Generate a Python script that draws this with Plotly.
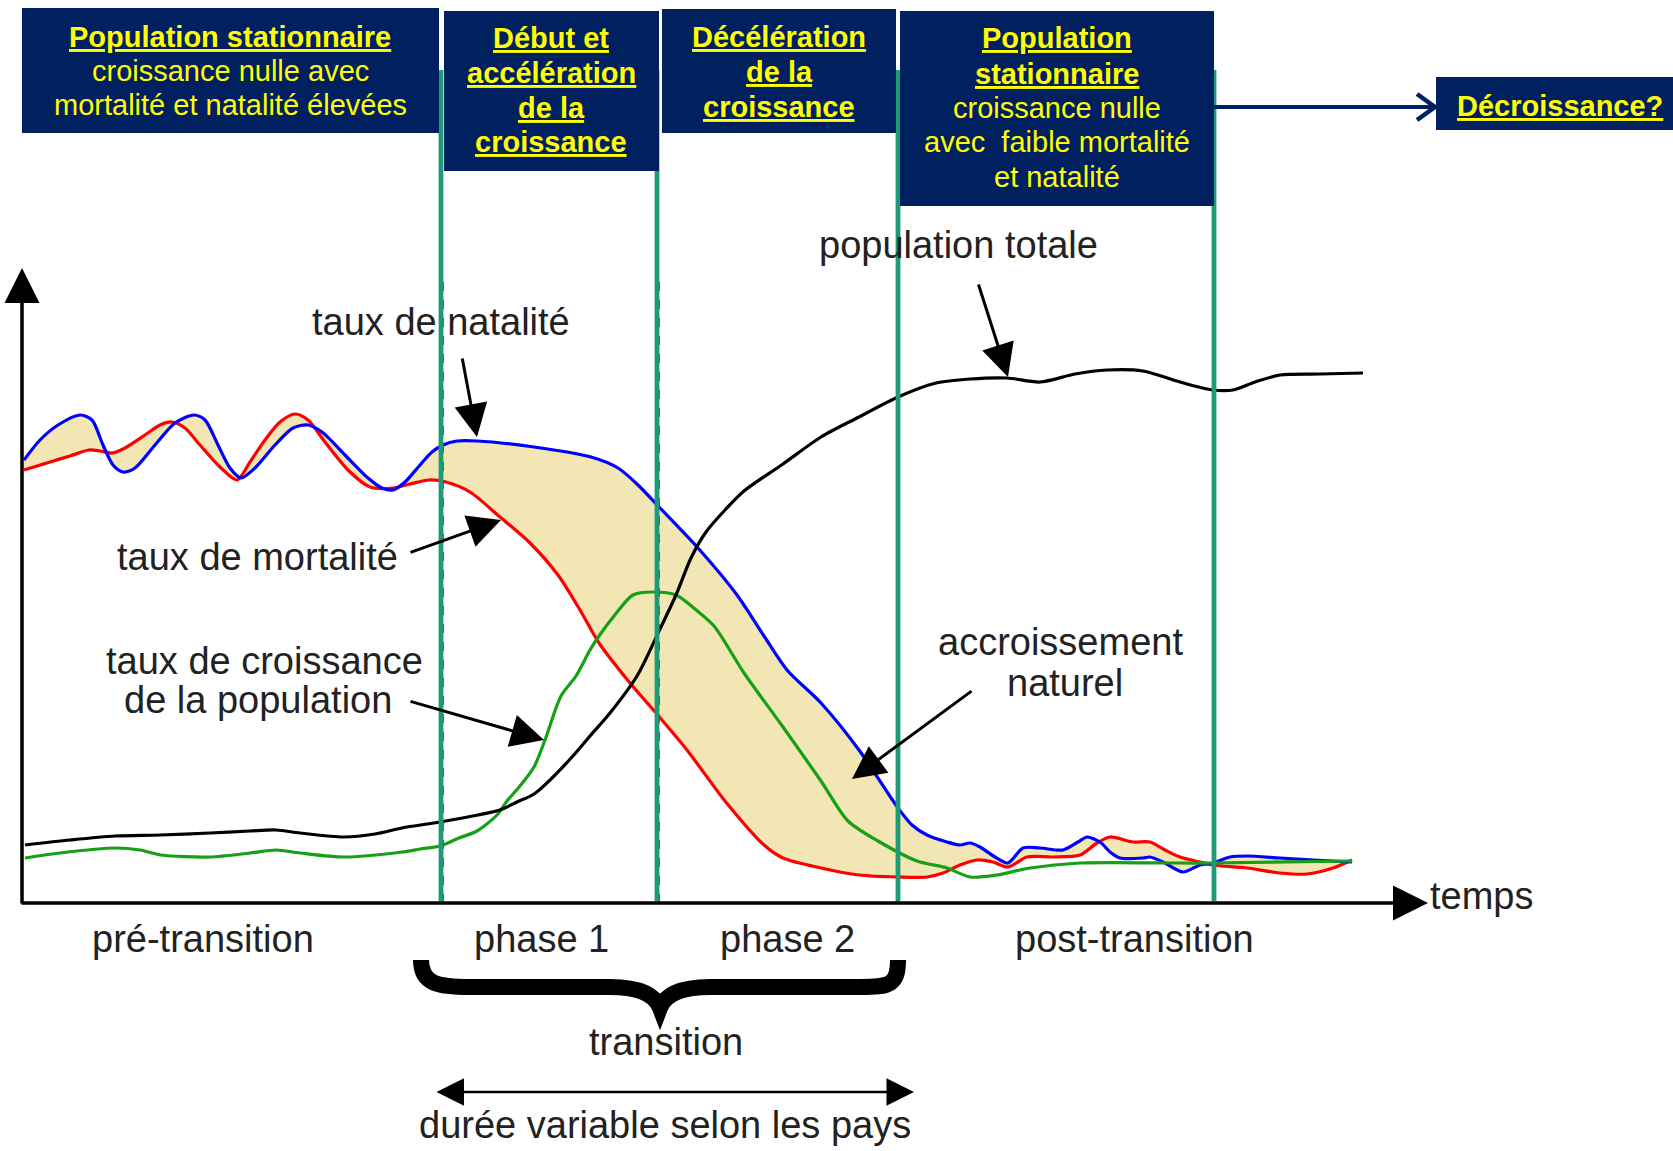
import plotly.graph_objects as go

# ---- data (t = time from origin, h = height above time axis) ----
natalite_t = [2, 18, 36, 58, 70, 81, 91, 101, 113, 133, 153, 172, 183, 196, 208, 219, 233, 253, 271, 286,
              300, 323, 346, 360, 371, 383, 398, 410, 421, 435, 455, 512, 569, 596, 615, 638, 676, 715, 742,
              765, 799, 837, 876, 890, 905, 925, 938, 948, 958, 973, 986, 1001, 1018, 1041, 1056, 1065, 1078,
              1088, 1098, 1121, 1128, 1141, 1161, 1178, 1191, 1208, 1225, 1258, 1291, 1330]
natalite_h = [443, 463, 478, 488, 483, 458, 438, 431, 435, 458, 480, 488, 483, 458, 435, 425, 435, 458, 475, 478,
              471, 448, 425, 415, 413, 421, 438, 451, 458, 462, 462, 456, 446, 435, 419, 395, 355, 308, 267,
              233, 200, 153, 95, 78, 68, 61, 58, 60, 56, 46, 40, 55, 55, 53, 61, 66, 61,
              51, 45, 45, 46, 41, 31, 38, 40, 46, 47, 45, 43, 41]

mortalite_t = [2, 28, 48, 67, 78, 90, 103, 123, 138, 150, 163, 178, 198, 215, 228, 243, 258, 273, 286, 303,
               326, 348, 371, 388, 407, 424, 448, 478, 508, 536, 558, 577, 608, 634, 665, 703, 742, 761, 799,
               837, 876, 905, 921, 938, 955, 971, 986, 1005, 1031, 1058, 1075, 1088, 1111, 1128, 1143, 1158,
               1178, 1191, 1225, 1258, 1285, 1311, 1330]
mortalite_h = [433, 441, 447, 453, 452, 450, 455, 468, 478, 481, 475, 458, 436, 423, 441, 463, 481, 489, 483, 461,
               433, 416, 415, 419, 423, 421, 411, 386, 360, 328, 293, 260, 220, 190, 153, 102, 58, 45, 35,
               28, 26, 26, 30, 38, 43, 41, 36, 46, 46, 48, 60, 66, 61, 61, 53, 46,
               41, 38, 35, 30, 29, 35, 43]

croissance_t = [3, 38, 93, 118, 139, 188, 228, 254, 278, 322, 380, 398, 418, 437, 455, 475, 485, 498, 512, 523,
                539, 554, 568, 577, 592, 611, 631, 654, 673, 692, 722, 761, 799, 826, 856, 895, 925, 948, 975,
                1008, 1058, 1158, 1191, 1330]
croissance_h = [45, 50, 55, 53, 48, 46, 50, 53, 50, 46, 51, 54, 57, 65, 72, 88, 102, 117, 136, 163,
                207, 227, 253, 267, 287, 308, 311, 308, 294, 277, 230, 176, 122, 82, 62, 42, 35, 26, 28,
                35, 40, 40, 40, 42]

population_t = [3, 48, 93, 138, 188, 228, 254, 278, 322, 353, 380, 418, 456, 478, 495, 512, 530, 550, 568, 588,
                615, 638, 654, 669, 684, 703, 722, 761, 799, 837, 876, 914, 948, 985, 1018, 1053, 1085, 1121,
                1158, 1191, 1211, 1233, 1258, 1298, 1341]
population_h = [58, 63, 67, 68, 70, 72, 73, 70, 66, 69, 75, 81, 88, 93, 101, 109, 125, 146, 167, 190,
                227, 274, 308, 345, 371, 393, 412, 439, 466, 486, 506, 520, 524, 525, 521, 529, 533, 532,
                521, 513, 513, 521, 528, 529, 530]

phase_labels = ["pré-transition", "phase 1", "phase 2", "post-transition"]
phase_centers = [203, 541, 787, 1134]          # picture x of label centres
phase_bounds = [441, 657, 898, 1214]          # picture x of the green separators
dashed_bounds = [443, 659, 897]

NAVY = "#002060"
YELLOW = "#ffff00"
TEAL = "#1f9a78"
FILLC = "#f3e6b5"
TXT = "#222222"
FONT = "Liberation Sans, Arial, sans-serif"

# picture pixel -> data units
def X(px):
    return px - 22
def Y(py):
    return 903 - py

fig = go.Figure()

# natural increase area between natality and mortality
fig.add_trace(go.Scatter(x=natalite_t + mortalite_t[::-1], y=natalite_h + mortalite_h[::-1],
                         fill="toself", fillcolor=FILLC, mode="lines",
                         line=dict(width=0, shape="spline", smoothing=0.8), hoverinfo="skip"))
fig.add_trace(go.Scatter(x=mortalite_t, y=mortalite_h, mode="lines",
                         line=dict(color="#ff0000", width=3.2, shape="spline", smoothing=0.8)))
fig.add_trace(go.Scatter(x=natalite_t, y=natalite_h, mode="lines",
                         line=dict(color="#0000ff", width=3.2, shape="spline", smoothing=0.8)))
fig.add_trace(go.Scatter(x=croissance_t, y=croissance_h, mode="lines",
                         line=dict(color="#16a016", width=3.2, shape="spline", smoothing=0.8)))
fig.add_trace(go.Scatter(x=population_t, y=population_h, mode="lines",
                         line=dict(color="#000000", width=3.2, shape="spline", smoothing=0.8)))

shapes = []
# dashed phase separators
for bx in dashed_bounds:
    shapes.append(dict(type="line", xref="x", yref="y", x0=X(bx), x1=X(bx), y0=Y(903), y1=Y(280),
                       line=dict(color="#333333", width=1.6, dash="dash")))
# green separators
for bx in phase_bounds:
    shapes.append(dict(type="line", xref="x", yref="y", x0=X(bx), x1=X(bx), y0=Y(901), y1=Y(70),
                       line=dict(color=TEAL, width=4.8)))
# header boxes
boxes = [(22, 439, 8, 133), (444, 659, 11, 171), (662, 896, 9, 133), (900, 1214, 11, 206), (1436, 1673, 77, 130)]
for (x0, x1, y0, y1) in boxes:
    shapes.append(dict(type="rect", xref="x", yref="y", x0=X(x0), x1=X(x1), y0=Y(y1), y1=Y(y0),
                       fillcolor=NAVY, line=dict(width=0)))
# navy arrow to "Décroissance?"
shapes.append(dict(type="line", xref="x", yref="y", x0=X(1214), x1=X(1434), y0=Y(107), y1=Y(107),
                   line=dict(color=NAVY, width=4)))
shapes.append(dict(type="path", xref="x", yref="y",
                   path=f"M {X(1417)},{Y(94)} L {X(1435)},{Y(107)} L {X(1417)},{Y(120)}",
                   line=dict(color=NAVY, width=4.5)))
# brace under phases
bp = [(421, 960), (421, 985), (440, 987), (470, 987), (610, 987), (640, 987), (655, 995), (660, 1008),
      (665, 995), (680, 987), (710, 987), (860, 987), (890, 987), (898, 985), (898, 960)]
q = [(X(a), Y(b)) for a, b in bp]
path = (f"M {q[0][0]},{q[0][1]} C {q[1][0]},{q[1][1]} {q[2][0]},{q[2][1]} {q[3][0]},{q[3][1]} "
        f"L {q[4][0]},{q[4][1]} C {q[5][0]},{q[5][1]} {q[6][0]},{q[6][1]} {q[7][0]},{q[7][1]} "
        f"C {q[8][0]},{q[8][1]} {q[9][0]},{q[9][1]} {q[10][0]},{q[10][1]} "
        f"L {q[11][0]},{q[11][1]} C {q[12][0]},{q[12][1]} {q[13][0]},{q[13][1]} {q[14][0]},{q[14][1]}")
shapes.append(dict(type="path", xref="x", yref="y", path=path, line=dict(color="black", width=16)))

ann = []
def arrow(tail, tip, width=3, size=2.2, head=2, side="end"):
    ann.append(dict(x=X(tip[0]), y=Y(tip[1]), ax=X(tail[0]), ay=Y(tail[1]), xref="x", yref="y",
                    axref="x", ayref="y", showarrow=True, arrowhead=head, arrowsize=size,
                    arrowwidth=width, arrowcolor="black", text="", arrowside=side, standoff=0))

# axes
arrow((22, 905), (22, 268), width=3.5, size=2.0)
arrow((20, 903), (1428, 903), width=3.5, size=2.0)
# label arrows
arrow((462, 357), (477, 437))
arrow((409, 553), (501, 520))
arrow((409, 701), (544, 740))
arrow((973, 690), (852, 779))
arrow((978, 283), (1008, 377))
arrow((435, 1092), (914, 1092), width=2.5, size=2.2, side="end+start")

def text(s, px, py, size=38, color=TXT, xanchor="center"):
    ann.append(dict(x=X(px), y=Y(py), xref="x", yref="y", text=s, showarrow=False,
                    xanchor=xanchor, yanchor="middle", font=dict(family=FONT, size=size, color=color)))

text("taux de natalité", 441, 322)
text("taux de mortalité", 257, 557)
text("taux de croissance", 264, 661)
text("de la population", 258, 700)
text("accroissement", 1060, 642)
text("naturel", 1065, 683)
text("population totale", 958, 245)
text("temps", 1428, 896, xanchor="left")
for lab, cx in zip(phase_labels, phase_centers):
    text(lab, cx, 939)
text("transition", 666, 1042)
text("durée variable selon les pays", 665, 1125)

def title(s):
    return f"<b><span style='text-decoration:underline'>{s}</span></b>"

box_lines = [
    (230, [(title("Population stationnaire"), 37), ("croissance nulle avec", 71), ("mortalité et natalité élevées", 105)]),
    (551, [(title("Début et"), 38), (title("accélération"), 73), (title("de la"), 108), (title("croissance"), 142)]),
    (779, [(title("Décélération"), 37), (title("de la"), 72), (title("croissance"), 107)]),
    (1057, [(title("Population"), 38), (title("stationnaire"), 74), ("croissance nulle", 108),
            ("avec  faible mortalité", 142), ("et natalité", 177)]),
    (1560, [(title("Décroissance?"), 106)]),
]
for cx, lines in box_lines:
    for s, py in lines:
        text(s, cx, py, size=29, color=YELLOW)

fig.update_layout(
    width=1673, height=1151, margin=dict(l=0, r=0, t=0, b=0),
    paper_bgcolor="white", plot_bgcolor="white", showlegend=False,
    xaxis=dict(range=[-22, 1651], visible=False, fixedrange=True),
    yaxis=dict(range=[-248, 903], visible=False, fixedrange=True),
    shapes=shapes, annotations=ann,
)
fig.write_html("out.html", config={"displayModeBar": False},
               post_script="document.body.style.margin='0';document.body.style.overflow='hidden';")
